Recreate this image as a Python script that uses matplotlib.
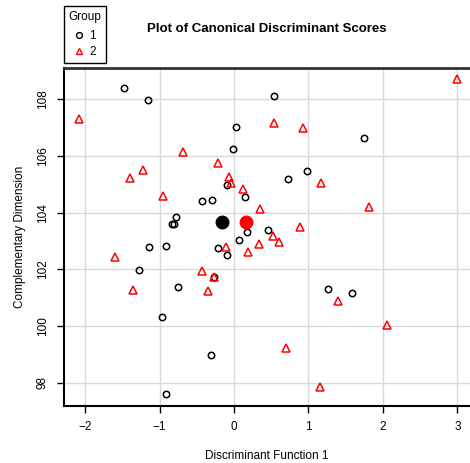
import numpy as np
import matplotlib.pyplot as plt

plt.rcParams['font.family'] = ['Liberation Sans', 'DejaVu Sans']

# group 1 scores (circles)
g1_x = [-1.48, -1.16, 0.03, -0.01, -0.09, 0.15, -0.43, -0.30, -0.78, -0.81,
        -0.83, 0.18, 0.06, 0.46, -1.14, -0.92, -0.22, -0.09, 0.54, 1.74,
        0.98, 0.73, -1.28, -0.27, -0.76, -0.97, -0.31, -0.91, 1.26, 1.59]
g1_y = [108.42, 107.99, 107.02, 106.26, 104.99, 104.57, 104.42, 104.46, 103.86, 103.59,
        103.59, 103.32, 103.04, 103.38, 102.78, 102.83, 102.74, 102.51, 108.13, 106.65,
        105.48, 105.19, 101.99, 101.74, 101.36, 100.31, 98.97, 97.59, 101.31, 101.15]

# group 2 scores (triangles)
g2_x = [-2.08, -0.69, -0.22, -1.22, -1.40, -0.07, -0.04, 0.12, -0.96, 0.35,
        -0.11, 0.34, 3.00, 0.53, 0.92, 1.17, 1.81, 0.52, 0.60, 0.89,
        0.19, -1.60, -0.43, -0.27, -1.36, -0.35, 1.40, 2.06, 0.70, 1.15]
g2_y = [107.30, 106.13, 105.75, 105.52, 105.24, 105.27, 105.04, 104.83, 104.59, 104.13,
        102.80, 102.89, 108.71, 107.16, 106.99, 105.06, 104.21, 103.18, 102.95, 103.51,
        102.60, 102.43, 101.95, 101.74, 101.26, 101.23, 100.88, 100.03, 99.23, 97.84]

xticks = [-2, -1, 0, 1, 2, 3]
yticks = [98, 100, 102, 104, 106, 108]

W, H = 470, 463
fig = plt.figure(figsize=(W / 100, H / 100), dpi=100)
ax = fig.add_axes([64 / W, 1 - 406 / H, (470 - 64) / W, (406 - 68) / H])

ax.set_xlim(-2.285, 3.17)
ax.set_ylim(97.17, 109.11)
ax.set_xticks(xticks)
ax.set_yticks(yticks)
ax.set_xticklabels(['\u22122', '\u22121', '0', '1', '2', '3'])
ax.grid(True, color='#d9d9d9', lw=1)
ax.set_axisbelow(True)

ax.plot(g1_x, g1_y, 'o', ls='none', mfc='none', mec='black', ms=4.6, mew=1.1)
ax.plot(g2_x, g2_y, '^', ls='none', mfc='none', mec='red', ms=5.2, mew=1.1)
ax.plot(np.mean(g1_x), np.mean(g1_y), 'o', color='black', ms=9)
ax.plot(np.mean(g2_x), np.mean(g2_y), 'o', color='red', ms=9)

for s in ['left', 'bottom']:
    ax.spines[s].set_linewidth(1.5)
    ax.spines[s].set_color('black')
ax.spines['top'].set_linewidth(2)
ax.spines['top'].set_color('#333333')
ax.spines['right'].set_visible(False)

ax.tick_params(direction='out', length=5, width=1, labelsize=8.5, pad=6)
ax.tick_params(axis='y', labelrotation=90)
for lab in ax.get_yticklabels():
    lab.set_va('center')

ax.set_xlabel('Discriminant Function 1', fontsize=8.5, labelpad=12)
ax.set_ylabel('Complementary Dimension', fontsize=8.5, labelpad=8)
ax.set_title('Plot of Canonical Discriminant Scores', fontsize=9.5,
             fontweight='bold', pad=26)

h1 = plt.Line2D([], [], marker='o', ls='none', mfc='none', mec='black', ms=4.2, mew=1)
h2 = plt.Line2D([], [], marker='^', ls='none', mfc='none', mec='red', ms=4.8, mew=1)
leg = fig.legend([h1, h2], ['1', '2'], title='Group', loc='upper left',
                 bbox_to_anchor=(64 / W, 1 - 6 / H), fontsize=8.5,
                 title_fontsize=8.5, fancybox=False, edgecolor='black',
                 framealpha=1, handlelength=0.8, handletextpad=0.5,
                 borderpad=0.4, labelspacing=0.35, borderaxespad=0)
leg.get_frame().set_linewidth(1)
leg._legend_box.sep = 5

fig.savefig('out.png', dpi=100)
